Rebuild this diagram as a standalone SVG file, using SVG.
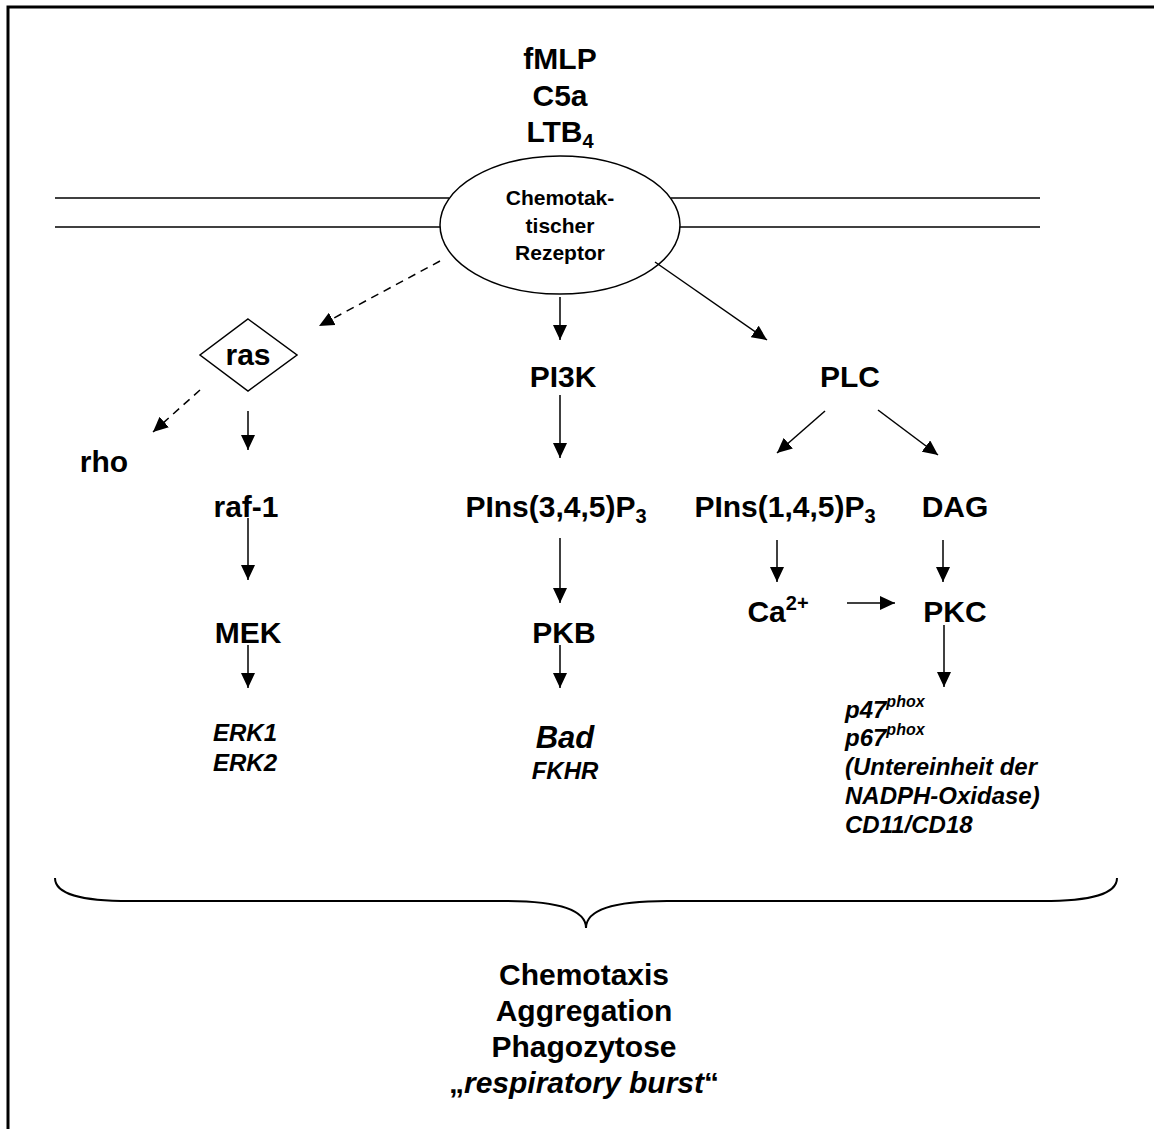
<svg xmlns="http://www.w3.org/2000/svg" width="1154" height="1129" viewBox="0 0 1154 1129">
<style>
text{font-family:"Liberation Sans",Arial,sans-serif;font-weight:bold;fill:#000}
.l{font-size:30px;text-anchor:middle}
.s{font-size:24px;font-style:italic}
.e{font-size:21px;text-anchor:middle}
.ln{stroke:#000;stroke-width:1.5;fill:none}
.d{stroke-dasharray:8 6}
</style>
<defs>
<marker id="ah" markerUnits="userSpaceOnUse" markerWidth="16" markerHeight="14" refX="15" refY="7" orient="auto">
<path d="M0,0 L15,7 L0,14 z" fill="#000"/>
</marker>
</defs>
<rect width="1154" height="1129" fill="#fff"/>
<path d="M8,1129 L8,7 L1154,7" fill="none" stroke="#000" stroke-width="3"/>
<g id="membrane" stroke="#000" stroke-width="1.5">
<line x1="55" y1="198" x2="449" y2="198"/>
<line x1="55" y1="227" x2="440" y2="227"/>
<line x1="671" y1="198" x2="1040" y2="198"/>
<line x1="680" y1="227" x2="1040" y2="227"/>
</g>
<g id="ligands">
<text class="l" x="560" y="69">fMLP</text>
<text class="l" x="560" y="106">C5a</text>
<text class="l" x="560" y="142">LTB<tspan font-size="20" dy="6">4</tspan></text>
</g>
<g id="receptor">
<ellipse cx="560" cy="225" rx="120" ry="69" fill="#fff" stroke="#000" stroke-width="1.5"/>
<text class="e" x="560" y="205">Chemotak-</text>
<text class="e" x="560" y="233">tischer</text>
<text class="e" x="560" y="260">Rezeptor</text>
</g>
<g id="ras">
<polygon points="248,319 297,355 248,391 200,355" fill="#fff" stroke="#000" stroke-width="1.5"/>
<text class="l" x="248" y="365">ras</text>
</g>
<g id="rho"><text class="l" x="104" y="472">rho</text></g>
<g id="raf1"><text class="l" x="246" y="517">raf-1</text></g>
<g id="mek"><text class="l" x="248" y="643">MEK</text></g>
<g id="erk"><text class="s" x="213" y="741">ERK1</text><text class="s" x="213" y="771">ERK2</text></g>
<g id="pi3k"><text class="l" x="563" y="387">PI3K</text></g>
<g id="pins345"><text class="l" x="556" y="517">PIns(3,4,5)P<tspan font-size="20" dy="6">3</tspan></text></g>
<g id="pkb"><text class="l" x="564" y="643">PKB</text></g>
<g id="bad"><text class="s" x="565" y="748" style="font-size:31px;text-anchor:middle">Bad</text><text class="s" x="565" y="779" style="text-anchor:middle">FKHR</text></g>
<g id="plc"><text class="l" x="850" y="387">PLC</text></g>
<g id="pins145"><text class="l" x="785" y="517">PIns(1,4,5)P<tspan font-size="20" dy="6">3</tspan></text></g>
<g id="dag"><text class="l" x="955" y="517">DAG</text></g>
<g id="ca"><text class="l" x="778" y="622">Ca<tspan font-size="20" dy="-12">2+</tspan></text></g>
<g id="pkc"><text class="l" x="955" y="622">PKC</text></g>
<g id="targets">
<text class="s" x="845" y="718">p47<tspan font-size="16" dy="-11">phox</tspan></text>
<text class="s" x="845" y="746">p67<tspan font-size="16" dy="-11">phox</tspan></text>
<text class="s" x="845" y="775">(Untereinheit der</text>
<text class="s" x="845" y="804">NADPH-Oxidase)</text>
<text class="s" x="845" y="833">CD11/CD18</text>
</g>
<g id="connectors">
<line class="ln d" x1="440" y1="261" x2="319" y2="326" marker-end="url(#ah)"/>
<line class="ln d" x1="200" y1="390" x2="153" y2="432" marker-end="url(#ah)"/>
<line class="ln" x1="248" y1="411" x2="248" y2="450" marker-end="url(#ah)"/>
<line class="ln" x1="248" y1="518" x2="248" y2="580" marker-end="url(#ah)"/>
<line class="ln" x1="248" y1="645" x2="248" y2="688" marker-end="url(#ah)"/>
<line class="ln" x1="560" y1="297" x2="560" y2="340" marker-end="url(#ah)"/>
<line class="ln" x1="560" y1="395" x2="560" y2="458" marker-end="url(#ah)"/>
<line class="ln" x1="560" y1="538" x2="560" y2="603" marker-end="url(#ah)"/>
<line class="ln" x1="560" y1="645" x2="560" y2="688" marker-end="url(#ah)"/>
<line class="ln" x1="655" y1="262" x2="767" y2="340" marker-end="url(#ah)"/>
<line class="ln" x1="825" y1="411" x2="777" y2="453" marker-end="url(#ah)"/>
<line class="ln" x1="878" y1="410" x2="938" y2="455" marker-end="url(#ah)"/>
<line class="ln" x1="777" y1="540" x2="777" y2="582" marker-end="url(#ah)"/>
<line class="ln" x1="943" y1="540" x2="943" y2="582" marker-end="url(#ah)"/>
<line class="ln" x1="847" y1="603" x2="895" y2="603" marker-end="url(#ah)"/>
<line class="ln" x1="944" y1="625" x2="944" y2="687" marker-end="url(#ah)"/>
</g>
<g id="brace">
<path d="M55,878 C55,894 80,901 130,901 L505,901 C560,901 586,910 586,928 C586,910 612,901 667,901 L1042,901 C1092,901 1117,894 1117,878" fill="none" stroke="#000" stroke-width="2"/>
</g>
<g id="outcome">
<text class="l" x="584" y="985">Chemotaxis</text>
<text class="l" x="584" y="1021">Aggregation</text>
<text class="l" x="584" y="1057">Phagozytose</text>
<text class="l" x="584" y="1093">„<tspan font-style="italic">respiratory burst</tspan>“</text>
</g>
</svg>
